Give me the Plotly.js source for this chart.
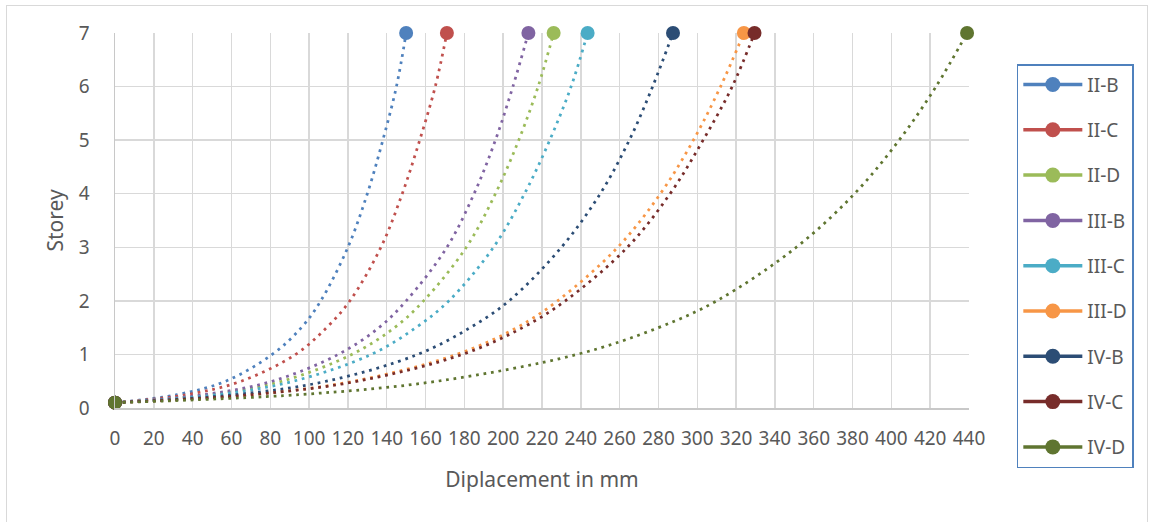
<!DOCTYPE html>
<html>
<head>
<meta charset="utf-8">
<script src="https://cdn.plot.ly/plotly-3.0.1.min.js"></script>
<style>
  html, body { margin: 0; padding: 0; background: #ffffff; }
  #wrap { position: relative; width: 1155px; height: 522px; overflow: hidden; }
  #chart { position: absolute; left: 0; top: 0; width: 1155px; height: 522px; }
  #frame { position: absolute; left: 6px; top: 5px; width: 1140px; height: 520px; border: 1.5px solid #d9d9d9; pointer-events: none; }
</style>
</head>
<body>
<div id="wrap">
  <div id="chart"></div>
  <div id="frame"></div>
</div>
<script>
// Storey levels at which displacements were read
const storeys = [0.1, 0.25, 0.5, 1, 1.5, 2, 3, 4, 5, 6, 7];

// Series names
const seriesNames = ["II-B", "II-C", "II-D", "III-B", "III-C", "III-D", "IV-B", "IV-C", "IV-D"];

// Displacements (mm) at each storey level
const dispIIB  = [0, 32, 57, 81, 96, 106, 120, 130, 138, 145, 150];
const dispIIC  = [0, 37, 65, 93, 109, 121, 137, 148, 157, 165, 171];
const dispIID  = [0, 49, 86, 122, 144, 159, 181, 196, 208, 218, 226];
const dispIIIB = [0, 46, 81, 115, 136, 150, 171, 185, 196, 205, 213];
const dispIIIC = [0, 53, 92, 132, 155, 172, 195, 211, 224, 235, 243.5];
const dispIIID = [0, 70, 123, 176, 207, 228, 259, 281, 298, 312, 324];
const dispIVB  = [0, 62, 109, 156, 183, 203, 230, 250, 265, 277, 287.5];
const dispIVC  = [0, 71, 125, 179, 210, 232, 264, 286, 303, 318, 329.5];
const dispIVD  = [0, 95, 166, 238, 280, 310, 351, 381, 404, 423, 439];

const xTickVals = [0,20,40,60,80,100,120,140,160,180,200,220,240,260,280,300,320,340,360,380,400,420,440];
const yTickVals = [0,1,2,3,4,5,6,7];

const seriesData = [dispIIB, dispIIC, dispIID, dispIIIB, dispIIIC, dispIIID, dispIVB, dispIVC, dispIVD];
const colors = ["#4F81BD", "#C0504D", "#9BBB59", "#8064A2", "#4BACC6", "#F79646", "#2C4D75", "#772C2A", "#5F7530"];

const traces = [];
seriesData.forEach((xs, i) => {
  const sizes = xs.map((v, j) => (j === 0 || j === xs.length - 1) ? 14 : 0);
  traces.push({
    type: "scatter",
    mode: "lines+markers",
    x: xs,
    y: storeys,
    name: seriesNames[i],
    legendgroup: seriesNames[i],
    showlegend: false,
    cliponaxis: false,
    line: { color: colors[i], width: 2.75, dash: "2.75px,4.8px", shape: "spline", smoothing: 1 },
    marker: { color: colors[i], size: sizes, opacity: 1, line: { width: 0 } },
    hoverinfo: "x+y+name"
  });
});
// legend entries (solid line + marker as in reference legend)
seriesNames.forEach((n, i) => {
  traces.push({
    type: "scatter",
    mode: "lines+markers",
    x: [null],
    y: [null],
    name: n,
    legendgroup: n,
    showlegend: true,
    line: { color: colors[i], width: 3.5 },
    marker: { color: colors[i], size: 15, opacity: 1, line: { width: 0 } }
  });
});

const fontFam = "'Noto Sans', 'Open Sans', sans-serif";
const layout = {
  width: 1155,
  height: 522,
  margin: { l: 115, r: 186, t: 33, b: 114 },
  paper_bgcolor: "rgba(0,0,0,0)",
  plot_bgcolor: "#ffffff",
  font: { family: fontFam, size: 19, color: "#595959" },
  showlegend: true,
  xaxis: {
    range: [0, 440],
    tickvals: xTickVals,
    ticktext: xTickVals.map(String),
    showgrid: true,
    gridcolor: "#d9d9d9",
    gridwidth: 1.5,
    zeroline: false,
    showline: true,
    linecolor: "#c8c8c8",
    linewidth: 1.5,
    ticks: "",
    ticklabelstandoff: 13,
    tickfont: { size: 19, color: "#595959" },
    title: { text: "Diplacement in mm", font: { size: 21, color: "#595959" }, standoff: 22 }
  },
  yaxis: {
    range: [0, 7],
    tickvals: yTickVals,
    ticktext: yTickVals.map(String),
    showgrid: true,
    gridcolor: "#d9d9d9",
    gridwidth: 1.5,
    zeroline: false,
    showline: true,
    linecolor: "#c8c8c8",
    linewidth: 1.5,
    ticks: "",
    ticklabelstandoff: 20,
    tickfont: { size: 19, color: "#595959" },
    title: { text: "Storey", font: { size: 21, color: "#595959" }, standoff: 9 }
  },
  legend: {
    x: 1.056,
    xanchor: "left",
    y: 0.917,
    yanchor: "top",
    bordercolor: "#4F81BD",
    borderwidth: 1.5,
    bgcolor: "#ffffff",
    font: { size: 19, color: "#595959" },
    tracegroupgap: 17.6,
    itemwidth: 59,
    maxheight: 500,
    traceorder: "grouped"
  }
};

Plotly.newPlot("chart", traces, layout, { displayModeBar: false, staticPlot: true });
</script>
</body>
</html>
